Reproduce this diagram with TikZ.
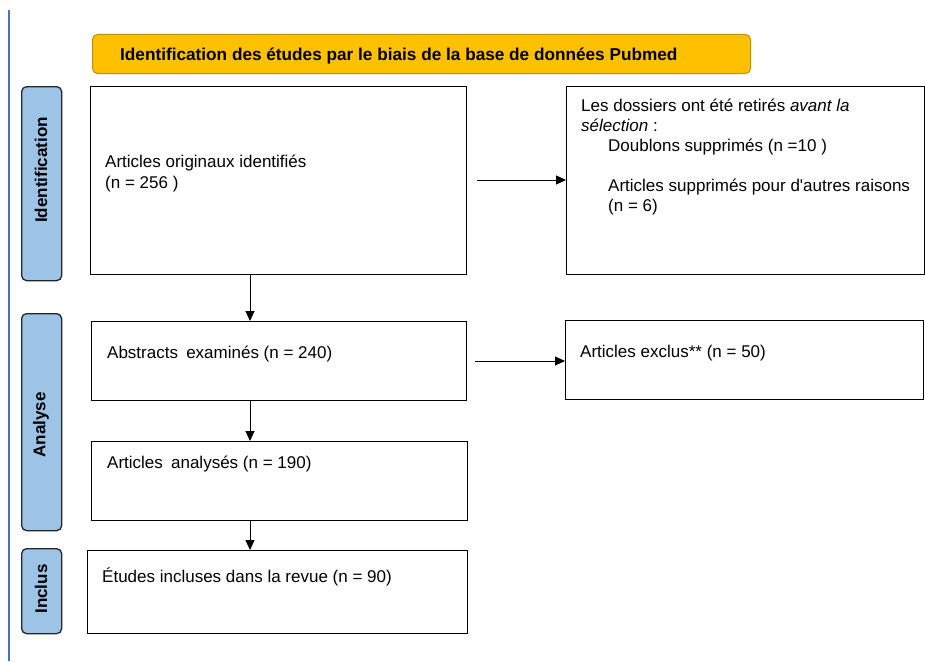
\documentclass[tikz,border=0pt]{standalone}
\usepackage{fontspec}
\setmainfont{Liberation Sans}
\usetikzlibrary{arrows.meta}
\definecolor{hdrfill}{HTML}{FFC000}
\definecolor{hdrdraw}{HTML}{BF9000}
\definecolor{sidefill}{HTML}{9DC3E6}
\definecolor{sidedraw}{HTML}{262626}
\definecolor{bluerule}{HTML}{4472C4}
\tikzset{
  box/.style={draw=black, line width=1.3pt, fill=white, rectangle, anchor=north west, inner sep=0pt},
  sidebox/.style={draw=sidedraw, line width=1.3pt, fill=sidefill, rounded corners=5pt, rectangle, anchor=north west, inner sep=0pt},
  hdrbox/.style={draw=hdrdraw, line width=1pt, fill=hdrfill, rounded corners=5pt, rectangle, anchor=north west, inner sep=0pt},
  txt/.style={anchor=base west, inner sep=0pt, font=\fontsize{17pt}{20pt}\selectfont},
  sidetxt/.style={rotate=90, inner sep=0pt, font=\fontsize{17pt}{20pt}\selectfont\bfseries},
  arr/.style={line width=1pt, -{Triangle[length=10pt,width=9pt]}}
}
\begin{document}
\begin{tikzpicture}[x=1pt,y=-1pt]
\useasboundingbox[fill=white] (0,0) rectangle (925,661);
% blue rule
\draw[bluerule, line width=1.5pt] (9,10) -- (9,661);
% header
\node[hdrbox, minimum width=658pt, minimum height=39pt] (hdr) at (92,34) {};
\node[txt, font=\fontsize{17.2pt}{20pt}\selectfont\bfseries] (hdrt) at (120,60) {Identification des études par le biais de la base de données Pubmed};
% side boxes
\node[sidebox, minimum width=40pt, minimum height=194pt] (s1) at (21,86) {};
\node[sidetxt] (s1t) at (41,170) {Identification};
\node[sidebox, minimum width=40pt, minimum height=217pt] (s2) at (21,313) {};
\node[sidetxt] (s2t) at (41,425) {Analyse};
\node[sidebox, minimum width=40pt, minimum height=85pt] (s3) at (21,548) {};
\node[sidetxt] (s3t) at (41,589) {Inclus};
% main boxes
\node[box, minimum width=376pt, minimum height=188pt] (b1) at (90,86) {};
\node[box, minimum width=375pt, minimum height=79pt] (b2) at (91,321) {};
\node[box, minimum width=376pt, minimum height=79pt] (b3) at (91,441) {};
\node[box, minimum width=380pt, minimum height=83pt] (b4) at (87,550) {};
\node[box, minimum width=358pt, minimum height=188pt] (r1) at (566,86) {};
\node[box, minimum width=358pt, minimum height=79pt] (r2) at (565,320) {};
% texts
\node[txt] (b1a) at (105,167) {Articles originaux identifiés};
\node[txt] (b1b) at (105,188) {(n = 256 )};
\node[txt] (b2a) at (107,358) {Abstracts\hspace{3.5pt} examinés (n = 240)};
\node[txt] (b3a) at (107,468) {Articles\hspace{3.5pt} analysés (n = 190)};
\node[txt] (b4a) at (102,582) {Études incluses dans la revue (n = 90)};
\node[txt] (r1a) at (581,111) {Les dossiers ont été retirés \itshape avant la};
\node[txt] (r1b) at (581,131) {\itshape sélection\upshape\ :};
\node[txt] (r1c) at (608,151) {Doublons supprimés (n =10 )};
\node[txt] (r1d) at (608,191) {Articles supprimés pour d\textquotesingle autres raisons};
\node[txt] (r1e) at (608,211) {(n = 6)};
\node[txt] (r2a) at (580,357) {Articles exclus** (n = 50)};
% arrows
\coordinate (vx) at (250,0);
\coordinate (t1) at (477,180);
\coordinate (t2) at (475,361);
\draw[arr] (b1.south -| vx) -- (b2.north -| vx);
\draw[arr] (b2.south -| vx) -- (b3.north -| vx);
\draw[arr] (b3.south -| vx) -- (b4.north -| vx);
\draw[arr] (t1) -- (r1.west |- t1);
\draw[arr] (t2) -- (r2.west |- t2);
\end{tikzpicture}
\end{document}
